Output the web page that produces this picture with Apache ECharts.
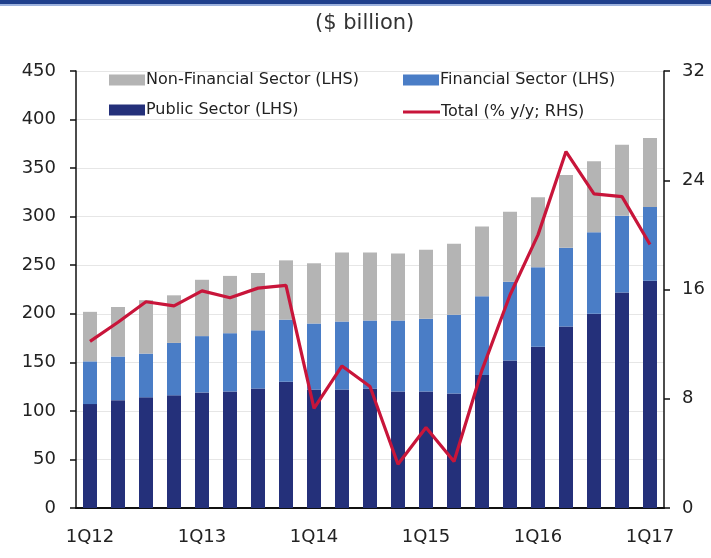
<!DOCTYPE html>
<html>
<head>
<meta charset="utf-8">
<script src="https://cdn.jsdelivr.net/npm/echarts@6/dist/echarts.min.js"></script>
<style>
html, body { margin: 0; padding: 0; background: #fff; }
#chart { width: 711px; height: 558px; }
</style>
</head>
<body>
<div id="chart"></div>
<script>
// quarters 1Q12 .. 1Q17
var quarters = ['1Q12','2Q12','3Q12','4Q12','1Q13','2Q13','3Q13','4Q13','1Q14','2Q14','3Q14','4Q14',
                '1Q15','2Q15','3Q15','4Q15','1Q16','2Q16','3Q16','4Q16','1Q17'];

// $ billion, stacked (LHS)
var publicSector  = [107, 111, 114, 116, 119, 120, 123, 130, 122, 122, 123, 120, 120, 118, 137, 152, 166, 187, 200, 222, 234];
var financial     = [44, 45, 45, 54, 58, 60, 60, 64, 68, 70, 70, 73, 75, 81, 81, 81, 82, 81, 84, 79, 76];
var nonFinancial  = [51, 51, 55, 49, 58, 59, 59, 61, 62, 71, 70, 69, 71, 73, 72, 72, 72, 75, 73, 73, 71];

// total % y/y (RHS)
var totalYoY = [12.2, 13.6, 15.1, 14.8, 15.9, 15.4, 16.1, 16.3, 7.3, 10.4, 8.9, 3.2, 5.9, 3.4, 10.1, 15.6, 20.0, 26.1, 23.0, 22.8, 19.3];

var navy = '#24307a', blue = '#4a7dc6', grey = '#b4b4b4', red = '#c8153a';
var font = 'DejaVu Sans';
var legendText = { fontFamily: font, fontSize: 16, color: '#222', padding: [0, 0, 0, -4] };

var chart = echarts.init(document.getElementById('chart'));
var option = {
    animation: false,
    backgroundColor: '#fff',
    title: {
        text: '($ billion)',
        left: 310,
        top: 8,
        textStyle: { fontFamily: font, fontSize: 21, fontWeight: 'normal', color: '#333' }
    },
    graphic: [
        { type: 'rect', shape: { x: 0, y: 0, width: 711, height: 4 }, style: { fill: '#1f3f8c' } },
        { type: 'rect', shape: { x: 0, y: 4, width: 711, height: 2 }, style: { fill: '#9db2de' } }
    ],
    legend: [
        {
            orient: 'vertical',
            left: 104,
            top: 67,
            itemGap: 14,
            itemWidth: 36,
            itemHeight: 11,
            icon: 'rect',
            textStyle: legendText,
            data: ['Non-Financial Sector (LHS)', 'Public Sector (LHS)']
        },
        {
            left: 398,
            top: 67,
            itemWidth: 36,
            itemHeight: 11,
            icon: 'rect',
            textStyle: legendText,
            data: ['Financial Sector (LHS)']
        },
        {
            left: 398,
            top: 99,
            itemWidth: 37,
            itemHeight: 3,
            icon: 'rect',
            textStyle: legendText,
            data: ['Total (% y/y; RHS)']
        }
    ],
    grid: { left: 76, right: 47, top: 71, bottom: 50 },
    xAxis: {
        type: 'category',
        data: quarters,
        axisLine: { lineStyle: { color: '#111', width: 2 } },
        axisTick: { interval: 0, length: 5, lineStyle: { color: '#111', width: 1.5 } },
        axisLabel: { interval: 3, margin: 20, fontFamily: font, fontSize: 18, color: '#222' }
    },
    yAxis: [
        {
            type: 'value',
            min: 0, max: 450, interval: 50,
            axisLine: { show: true, lineStyle: { color: '#111', width: 1.5 } },
            axisTick: { show: true, length: 6, lineStyle: { color: '#111', width: 1.5 } },
            axisLabel: { margin: 20, fontFamily: font, fontSize: 18, color: '#222' },
            splitLine: { lineStyle: { color: '#e6e6e6', width: 1 } }
        },
        {
            type: 'value',
            min: 0, max: 32, interval: 8,
            axisLine: { show: true, lineStyle: { color: '#111', width: 1.5 } },
            axisTick: { show: true, length: 6, lineStyle: { color: '#111', width: 1.5 } },
            axisLabel: { margin: 18, fontFamily: font, fontSize: 18, color: '#222' },
            splitLine: { show: false }
        }
    ],
    series: [
        {
            name: 'Public Sector (LHS)',
            type: 'bar',
            stack: 'debt',
            barWidth: '50%',
            itemStyle: { color: navy },
            data: publicSector
        },
        {
            name: 'Financial Sector (LHS)',
            type: 'bar',
            stack: 'debt',
            itemStyle: { color: blue },
            data: financial
        },
        {
            name: 'Non-Financial Sector (LHS)',
            type: 'bar',
            stack: 'debt',
            itemStyle: { color: grey },
            data: nonFinancial
        },
        {
            name: 'Total (% y/y; RHS)',
            type: 'line',
            yAxisIndex: 1,
            symbol: 'none',
            lineStyle: { color: red, width: 3.2 },
            itemStyle: { color: red },
            data: totalYoY
        }
    ]
};
chart.setOption(option);
</script>
</body>
</html>
